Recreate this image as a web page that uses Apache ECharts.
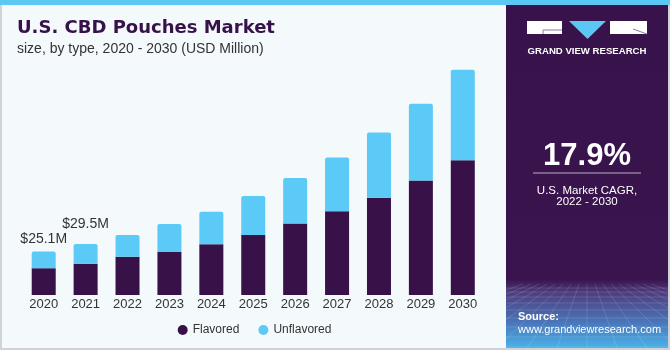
<!DOCTYPE html>
<html>
<head>
<meta charset="utf-8">
<script src="https://cdn.jsdelivr.net/npm/echarts@6/dist/echarts.min.js"></script>
<style>
html,body{margin:0;padding:0;background:#f4f9fc;}
#chart{width:670px;height:350px;}
</style>
</head>
<body>
<div id="chart"></div>
<script>
var categories = ["2020","2021","2022","2023","2024","2025","2026","2027","2028","2029","2030"];
var flavored = [15.5, 18.1, 22.2, 24.9, 29.4, 34.7, 41.3, 48.5, 56.2, 66.2, 78.0];
var unflavored = [9.6, 11.4, 12.5, 16.2, 18.7, 22.6, 26.4, 31.0, 37.8, 44.4, 52.3];
var totalLabels = ["$25.1M", "$29.5M", "", "", "", "", "", "", "", "", ""];

var chart = echarts.init(document.getElementById('chart'), null, {renderer: 'canvas'});
var font = "'Liberation Sans', Arial, sans-serif";

// label distances (styling only)
var labelDistance = [5, 13, 5, 5, 5, 5, 5, 5, 5, 5, 5];
var unflavoredData = unflavored.map(function (v, i) {
  return {value: v, label: {distance: labelDistance[i]}};
});

// decorative grid texture in the source panel
var texture = [];
var hy = [288, 292, 297, 303, 310, 318, 327, 337, 347];
hy.forEach(function (y) {
  texture.push({type: 'line', shape: {x1: 506, y1: y, x2: 668, y2: y},
    style: {stroke: 'rgba(255,255,255,0.13)', lineWidth: 1}, z: 6, silent: true});
});
for (var k = -8; k <= 8; k++) {
  texture.push({type: 'line', shape: {x1: 587 + k * 8, y1: 284, x2: 587 + k * 30, y2: 348},
    style: {stroke: 'rgba(255,255,255,0.13)', lineWidth: 1}, z: 6, silent: true});
}

chart.setOption({
  backgroundColor: '#f4f9fc',
  animation: false,
  textStyle: {fontFamily: font},
  grid: {left: 22.75, width: 461, top: 53, height: 242, containLabel: false},
  xAxis: {
    type: 'category',
    data: categories,
    axisLine: {show: false},
    axisTick: {show: false},
    axisLabel: {color: '#333', fontSize: 13, margin: 3, fontFamily: font}
  },
  yAxis: {
    type: 'value', min: 0, max: 140,
    show: false, splitLine: {show: false}
  },
  legend: {
    data: ['Flavored', 'Unflavored'],
    left: 172.7, top: 319,
    icon: 'circle', itemWidth: 10, itemHeight: 10, itemGap: 19,
    textStyle: {color: '#333', fontSize: 12, fontFamily: font}
  },
  series: [
    {
      name: 'Flavored', type: 'bar', stack: 'total', data: flavored,
      barWidth: 24, itemStyle: {color: '#371148'}
    },
    {
      name: 'Unflavored', type: 'bar', stack: 'total', data: unflavoredData,
      barWidth: 24, itemStyle: {color: '#5ccaf7', borderRadius: [2,2,0,0]},
      label: {
        show: true, position: 'top', distance: 5,
        color: '#333', fontSize: 14, fontFamily: font,
        formatter: function (p) { return totalLabels[p.dataIndex]; }
      }
    }
  ],
  graphic: [
    {type: 'rect', shape: {x: 0, y: 0, width: 670, height: 5}, style: {fill: '#5bc8f4'}, z: 10},
    {type: 'rect', shape: {x: 0, y: 0, width: 2, height: 350}, style: {fill: '#cfd3d6'}, z: 9},
    {type: 'rect', shape: {x: 0, y: 348, width: 670, height: 2}, style: {fill: '#cfd3d6'}, z: 9},
    {type: 'rect', shape: {x: 668, y: 0, width: 2, height: 350}, style: {fill: '#cfd3d6'}, z: 9},
    {type: 'rect', shape: {x: 506, y: 5, width: 162, height: 343},
      style: {fill: new echarts.graphic.LinearGradient(0, 0, 0, 1, [
        {offset: 0, color: '#38124a'},
        {offset: 0.8, color: '#3a144e'},
        {offset: 0.84, color: '#4e3e80'},
        {offset: 0.92, color: '#4a72b6'},
        {offset: 1, color: '#4ab2e8'}
      ])}, z: 5},
  ].concat(texture).concat([
    // logo
    {type: 'rect', shape: {x: 527, y: 21, width: 35, height: 13}, style: {fill: '#ffffff'}, z: 6},
    {type: 'line', shape: {x1: 543, y1: 30, x2: 562, y2: 30}, style: {stroke: '#8a7a9a', lineWidth: 1}, z: 7},
    {type: 'line', shape: {x1: 543, y1: 30, x2: 543, y2: 34}, style: {stroke: '#8a7a9a', lineWidth: 1}, z: 7},
    {type: 'polygon', shape: {points: [[569, 21], [606, 21], [587.5, 39]]}, style: {fill: '#5bc8f4'}, z: 6},
    {type: 'rect', shape: {x: 610, y: 21, width: 37, height: 13}, style: {fill: '#ffffff'}, z: 6},
    {type: 'line', shape: {x1: 633, y1: 29, x2: 647, y2: 34}, style: {stroke: '#8a7a9a', lineWidth: 1}, z: 7},
    {type: 'text', style: {text: 'GRAND VIEW RESEARCH', x: 587, y: 51, align: 'center', verticalAlign: 'middle',
      fill: '#ffffff', font: "bold 9.6px 'Liberation Sans', Arial, sans-serif"}, z: 7},
    // CAGR
    {type: 'text', style: {text: '17.9%', x: 587, y: 156, align: 'center', verticalAlign: 'middle',
      fill: '#ffffff', font: "bold 31px 'Liberation Sans', Arial, sans-serif"}, z: 7},
    {type: 'line', shape: {x1: 533, y1: 173, x2: 641, y2: 173}, style: {stroke: '#b9aec4', lineWidth: 1}, z: 7},
    {type: 'text', style: {text: 'U.S. Market CAGR,', x: 587, y: 190.5, align: 'center', verticalAlign: 'middle',
      fill: '#ffffff', font: "11.5px 'Liberation Sans', Arial, sans-serif"}, z: 7},
    {type: 'text', style: {text: '2022 - 2030', x: 587, y: 202, align: 'center', verticalAlign: 'middle',
      fill: '#ffffff', font: "11.5px 'Liberation Sans', Arial, sans-serif"}, z: 7},
    // source
    {type: 'text', style: {text: 'Source:', x: 518, y: 317, align: 'left', verticalAlign: 'middle',
      fill: '#ffffff', font: "bold 11px 'Liberation Sans', Arial, sans-serif"}, z: 7},
    {type: 'text', style: {text: 'www.grandviewresearch.com', x: 518, y: 330, align: 'left', verticalAlign: 'middle',
      fill: '#ffffff', font: "11px 'Liberation Sans', Arial, sans-serif"}, z: 7},
    // title
    {type: 'text', style: {text: 'U.S. CBD Pouches Market', x: 17, y: 28.5, align: 'left', verticalAlign: 'middle',
      fill: '#37124a', font: "bold 18px 'DejaVu Sans', 'Liberation Sans', Arial, sans-serif"}, z: 7},
    {type: 'text', style: {text: 'size, by type, 2020 - 2030 (USD Million)', x: 17, y: 49, align: 'left', verticalAlign: 'middle',
      fill: '#333333', font: "14px 'Liberation Sans', Arial, sans-serif"}, z: 7}
  ])
});
</script>
</body>
</html>
